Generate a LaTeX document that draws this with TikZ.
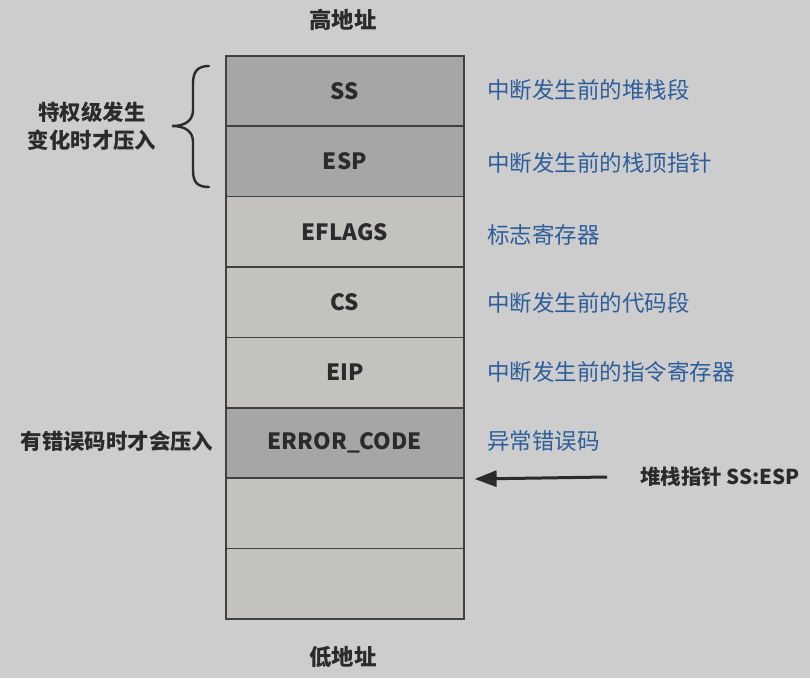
\documentclass[tikz,border=0pt]{standalone}
\usepackage{fontspec}
\setmainfont{Noto Sans CJK SC}
\usetikzlibrary{arrows.meta}
\definecolor{bg}{HTML}{CDCDCD}
\definecolor{darkcell}{HTML}{A6A6A6}
\definecolor{lightcell}{HTML}{C3C2BE}
\definecolor{edge}{HTML}{404040}
\definecolor{note}{HTML}{2E5E9A}
\definecolor{ink}{HTML}{2B2B2B}
\tikzset{
  cell/.style={draw=edge, line width=1.6pt, minimum width=238pt, minimum height=70.4pt, inner sep=0pt, anchor=north west, font=\fontsize{22.4}{26}\selectfont\bfseries, text=ink},
  dcell/.style={cell, fill=darkcell},
  lcell/.style={cell, fill=lightcell},
  desc/.style={anchor=west, inner sep=0pt, text=note, font=\fontsize{22.5}{26}\selectfont},
  lab/.style={inner sep=0pt, text=ink, font=\fontsize{21.4}{28}\selectfont\bfseries, align=center},
}
\begin{document}
\begin{tikzpicture}[x=1pt,y=-1pt]
\fill[bg] (0,0) rectangle (810,678);
\useasboundingbox (0,0) rectangle (810,678);
\node[dcell] (c1) at (225,55) {SS};
\node[dcell] (c2) at (225,125.4) {ESP};
\node[lcell] (c3) at (225,195.8) {EFLAGS};
\node[lcell] (c4) at (225,266.2) {CS};
\node[lcell] (c5) at (225,336.6) {EIP};
\node[dcell] (c6) at (225,407) {ERROR\_CODE};
\node[lcell] (c7) at (225,477.4) {};
\node[lcell] (c8) at (225,547.8) {};
\node[lab, font=\fontsize{22.4}{26}\selectfont\bfseries] (hi) at (343,20) {高地址};
\node[lab, font=\fontsize{22.4}{26}\selectfont\bfseries] (lo) at (343,657) {低地址};
\node[desc] (d1) at (487,90) {中断发生前的堆栈段};
\node[desc] (d2) at (487,163) {中断发生前的栈顶指针};
\node[desc] (d3) at (487,235) {标志寄存器};
\node[desc] (d4) at (487,303) {中断发生前的代码段};
\node[desc] (d5) at (487,372) {中断发生前的指令寄存器};
\node[desc] (d6) at (487,441) {异常错误码};
\node[lab] (priv) at (92,126) {特权级发生\\变化时才压入};
\node[lab] (err) at (117,441) {有错误码时才会压入};
\node[lab, anchor=west, font=\fontsize{20.5}{26}\selectfont\bfseries] (sp) at (640,477) {堆栈指针 SS:ESP};
\coordinate (tail) at (607,477);
\draw[ink, line width=3pt, -{Triangle[length=22pt,width=16pt]}] (tail) -- ([xshift=10pt]c6.south east);
\draw[ink, line width=2.4pt, line cap=round] (209,66) .. controls (197,66) and (193,72) .. (193,84) -- (193,110) .. controls (193,120) and (186,126) .. (172,126) .. controls (186,126) and (193,132) .. (193,142) -- (193,170) .. controls (193,182) and (197,187) .. (209,187);
\end{tikzpicture}
\end{document}
